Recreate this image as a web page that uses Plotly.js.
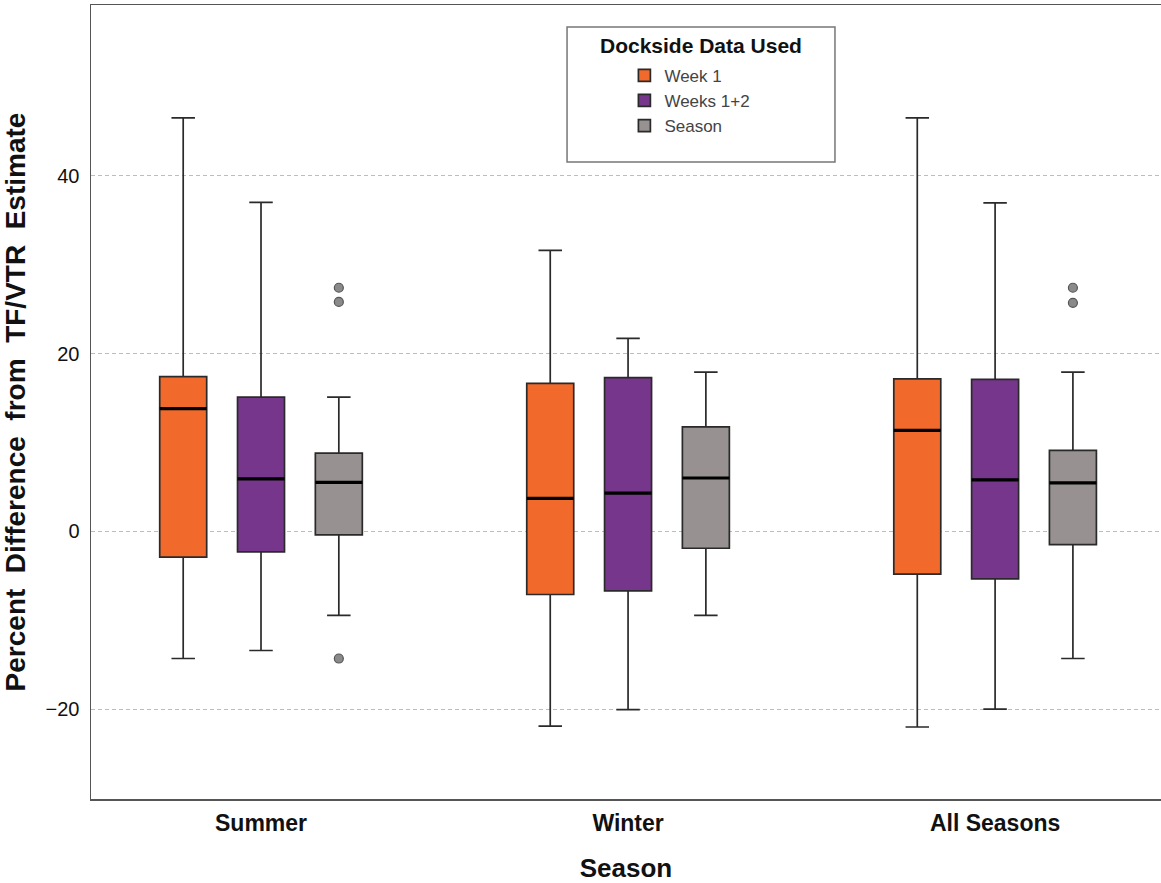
<!DOCTYPE html>
<html>
<head>
<meta charset="utf-8">
<script src="https://cdn.plot.ly/plotly-3.0.1.min.js"></script>
<style>
  html, body { margin: 0; padding: 0; background: #ffffff; }
  #chart { width: 1161px; height: 883px; }
</style>
</head>
<body>
<div id="chart"></div>
<script>
// Seasons on the x axis and the dockside data subsets drawn within each
const seasons = ['Summer', 'Winter', 'All Seasons'];
const seriesNames = ['Week 1', 'Weeks 1+2', 'Season'];
const seriesColors = ['#F26A2B', '#76368C', '#979191'];

// Five-number summaries (percent difference from TF/VTR estimate)
const week1Lower  = [-14.3, -21.9, -22.0];
const week1Q1     = [-2.9, -7.1, -4.8];
const week1Median = [13.8, 3.7, 11.35];
const week1Q3     = [17.4, 16.65, 17.15];
const week1Upper  = [46.5, 31.6, 46.5];

const weeks12Lower  = [-13.4, -20.05, -20.0];
const weeks12Q1     = [-2.3, -6.7, -5.35];
const weeks12Median = [5.9, 4.3, 5.8];
const weeks12Q3     = [15.1, 17.3, 17.1];
const weeks12Upper  = [37.0, 21.7, 36.95];

const seasonLower  = [-9.45, -9.45, -14.3];
const seasonQ1     = [-0.4, -1.9, -1.5];
const seasonMedian = [5.5, 6.0, 5.45];
const seasonQ3     = [8.8, 11.75, 9.1];
const seasonUpper  = [15.1, 17.9, 17.9];

// Outlying values of the whole-season series
const seasonOutlierSeason = ['Summer', 'Summer', 'Summer', 'All Seasons', 'All Seasons'];
const seasonOutlierValue  = [27.4, 25.8, -14.3, 27.4, 25.7];

const yTicks = [-20, 0, 20, 40];

// Layout of boxes within a season group
const groupOffset = [-0.212, 0, 0.212];
const boxWidth = 0.128;

const stats = [
  { lower: week1Lower, q1: week1Q1, median: week1Median, q3: week1Q3, upper: week1Upper },
  { lower: weeks12Lower, q1: weeks12Q1, median: weeks12Median, q3: weeks12Q3, upper: weeks12Upper },
  { lower: seasonLower, q1: seasonQ1, median: seasonMedian, q3: seasonQ3, upper: seasonUpper }
];

const seasonPos = (name) => seasons.indexOf(name) + 1;

const traces = [];
stats.forEach((s, i) => {
  const xs = seasons.map((name) => seasonPos(name) + groupOffset[i]);
  traces.push({
    type: 'box',
    name: seriesNames[i],
    x: xs,
    q1: s.q1, median: s.median, q3: s.q3,
    lowerfence: s.lower, upperfence: s.upper,
    width: boxWidth,
    whiskerwidth: 0.5,
    fillcolor: seriesColors[i],
    line: { color: '#2a2a2a', width: 1.7 },
    boxpoints: false,
    hoverinfo: 'y'
  });
});

// Heavy median bars on top of each box
stats.forEach((s, i) => {
  const xs = seasons.map((name) => seasonPos(name) + groupOffset[i]);
  traces.push({
    type: 'box',
    name: seriesNames[i] + ' median',
    x: xs,
    q1: s.median, median: s.median, q3: s.median,
    lowerfence: s.median, upperfence: s.median,
    width: boxWidth,
    whiskerwidth: 0,
    fillcolor: 'rgba(0,0,0,0)',
    line: { color: '#000000', width: 3.2 },
    boxpoints: false,
    showlegend: false,
    hoverinfo: 'skip'
  });
});

traces.push({
  type: 'scatter',
  mode: 'markers',
  name: 'Season outliers',
  x: seasonOutlierSeason.map((name) => seasonPos(name) + groupOffset[2]),
  y: seasonOutlierValue,
  marker: { size: 9, color: '#8a8a8a', line: { color: '#555555', width: 1.2 } },
  showlegend: false,
  hoverinfo: 'y'
});

const font = 'Liberation Sans, Arial, sans-serif';

const layout = {
  width: 1161,
  height: 883,
  margin: { l: 91, r: 0, t: 5, b: 84 },
  paper_bgcolor: '#ffffff',
  plot_bgcolor: '#ffffff',
  font: { family: font, color: '#222222' },
  boxmode: 'overlay',
  showlegend: true,
  xaxis: {
    range: [0.5368, 3.452],
    tickvals: seasons.map(seasonPos),
    ticktext: seasons,
    tickfont: { family: font, size: 23, color: '#111111', weight: 'bold' },
    ticks: '',
    ticklabelstandoff: 3,
    showgrid: false,
    zeroline: false,
    showline: true,
    mirror: true,
    linecolor: '#555555',
    linewidth: 1.5,
    title: { text: 'Season', font: { family: font, size: 26, color: '#111111', weight: 'bold' } }
  },
  yaxis: {
    range: [-30.1, 59.2],
    tickvals: yTicks,
    ticks: '',
    ticklabelstandoff: 6,
    tickfont: { family: font, size: 20, color: '#111111' },
    showgrid: true,
    gridcolor: '#bdbdbd',
    gridwidth: 1,
    griddash: '4px,3px',
    zeroline: false,
    showline: true,
    linecolor: '#555555',
    linewidth: 1.5,
    title: {
      text: 'Percent  Difference  from  TF/VTR  Estimate',
      font: { family: font, size: 28, color: '#111111', weight: 'bold' }
    }
  },
  legend: {
    x: 0.4985, xanchor: 'left',
    y: 0.9335, yanchor: 'top',
    bgcolor: 'rgba(0,0,0,0)',
    borderwidth: 0,
    font: { family: font, size: 17, color: '#444444' },
    tracegroupgap: 0
  },
  shapes: [{
    type: 'rect', xref: 'paper', yref: 'paper',
    x0: 0.4449, x1: 0.6953, y0: 0.8023, y1: 0.9723,
    line: { color: '#777777', width: 1.5 },
    fillcolor: 'rgba(0,0,0,0)'
  }],
  annotations: [{
    xref: 'paper', yref: 'paper',
    x: 0.5701, y: 0.9484, xanchor: 'center', yanchor: 'middle',
    text: 'Dockside Data Used',
    showarrow: false,
    font: { family: font, size: 21, color: '#111111', weight: 'bold' }
  }]
};

Plotly.newPlot('chart', traces, layout, { displayModeBar: false, staticPlot: true });
</script>
</body>
</html>
